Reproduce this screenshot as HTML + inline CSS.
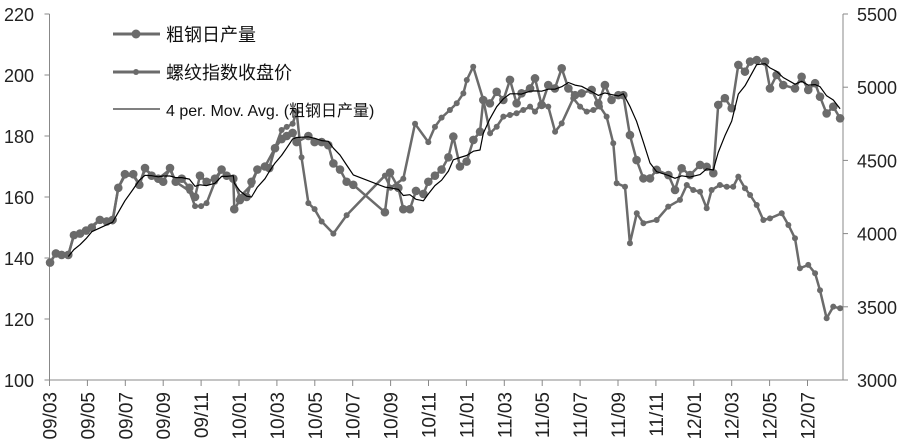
<!DOCTYPE html>
<html><head><meta charset="utf-8"><style>
html,body{margin:0;padding:0;background:#fff;}
svg{display:block;font-family:"Liberation Sans","Noto Sans CJK SC",sans-serif;}
</style></head><body>
<svg id="chart" width="900" height="442" viewBox="0 0 900 442" xmlns="http://www.w3.org/2000/svg">
<g id="axes"></g><g id="series"></g>
<g id="legend">
  <g>
    <line x1="113" y1="34" x2="160" y2="34" stroke="#6b6b6b" stroke-width="3"/>
    <circle cx="136" cy="34" r="4.5" fill="#6b6b6b"/>
    <text x="166" y="41" font-size="18" fill="#111">粗钢日产量</text>
  </g>
  <g>
    <line x1="113" y1="72" x2="160" y2="72" stroke="#6b6b6b" stroke-width="3"/>
    <circle cx="136" cy="72" r="3" fill="#6b6b6b"/>
    <text x="166" y="79" font-size="18" fill="#111">螺纹指数收盘价</text>
  </g>
  <g>
    <line x1="113" y1="109" x2="160" y2="109" stroke="#000" stroke-width="1"/>
    <text x="166" y="116" font-size="16" fill="#111">4 per. Mov. Avg. (粗钢日产量)</text>
  </g>
</g>
</svg>
<script>
const xTickLabels = ["09/03","09/05","09/07","09/09","09/11","10/01","10/03","10/05","10/07","10/09","10/11","11/01","11/03","11/05","11/07","11/09","11/11","12/01","12/03","12/05","12/07"];
const leftTicks = [100,120,140,160,180,200,220];
const rightTicks = [3000,3500,4000,4500,5000,5500];
const steelMonths = [0.03,0.34,0.64,0.99,1.29,1.61,1.93,2.23,2.66,3.02,3.33,3.63,3.98,4.42,4.74,5.04,5.39,5.74,6.0,6.36,6.66,6.98,7.38,7.68,7.94,8.29,8.73,9.08,9.35,9.7,9.75,10.05,10.4,10.66,10.97,11.37,11.6,11.9,12.25,12.52,12.83,13.04,13.66,13.99,14.36,14.71,14.98,15.33,15.68,16.03,17.7,17.97,18.41,18.67,19.02,19.34,19.73,19.99,20.34,20.69,21.05,21.31,21.66,22.01,22.37,22.72,22.89,23.24,23.6,23.95,24.3,24.65,24.91,25.36,25.62,25.97,26.32,26.67,27.03,27.38,27.73,28.08,28.61,28.96,29.31,29.66,30.02,30.28,30.63,30.98,31.34,31.69,32.04,32.66,33.01,33.36,33.8,34.33,34.68,35.03,35.29,35.64,36.0,36.35,36.7,36.97,37.32,37.76,38.02,38.37,38.72,39.34,39.69,40.04,40.4,40.66,41.01,41.36,41.72];
const steelValues = [138.5,141.5,141,141,147.5,148,149,150,152.5,152,152.5,163,167.5,167.5,164,169.5,167,166,165,169.5,165,166,163,160,167,165,166,169,167,166,156,159,160,165,169,170,169.5,176,179,180,181,178,180,178,178,177,171,169,165,164,155,168,163,156,156,162,161,165,167,169,173,179.8,170,171.6,178.7,181.4,191.8,190.7,194.5,191.8,198.4,190.7,194,195.6,198.9,190.2,196.7,195.6,202.2,195.6,193.4,194,195.1,190.7,196.7,191.8,193.4,193.4,180.3,172.1,166.1,166.1,168.9,167.2,162.3,169.4,167.2,170.5,169.9,167.8,190.2,192.4,189.1,203.3,201.1,204.4,204.9,204.4,195.6,200,196.7,195.6,199.4,195.1,197.3,192.9,187.4,189.6,185.8];
const rebarMonths = [0.03,0.34,0.99,1.29,1.93,2.66,3.33,3.63,3.98,4.42,4.74,5.04,5.74,6.36,6.66,7.38,7.68,8.0,8.29,8.73,9.08,9.35,9.7,10.05,10.66,10.97,11.37,11.9,12.25,12.52,12.83,13.04,13.3,13.66,13.99,14.36,14.98,15.68,17.7,18.0,18.67,19.29,19.99,20.34,20.69,21.13,21.49,21.84,22.02,22.36,22.89,23.25,23.6,23.95,24.3,24.65,25.0,25.36,25.62,25.97,26.32,26.68,27.03,27.64,28.0,28.35,28.7,29.05,29.4,29.75,29.93,30.37,30.63,30.99,31.34,32.04,32.65,33.27,33.63,33.97,34.33,34.68,34.94,35.38,35.74,36.08,36.35,36.7,36.97,37.32,37.67,38.02,38.64,38.99,39.34,39.6,40.04,40.4,40.66,41.01,41.36,41.72];
const rebarValues = [3802,3865,3854,3990,4021,4094,4083,4313,4396,4396,4333,4438,4375,4438,4354,4292,4188,4188,4208,4354,4438,4396,4375,4250,4333,4438,4458,4583,4708,4729,4750,4833,4521,4208,4167,4083,4000,4125,4396,4313,4375,4750,4625,4729,4792,4844,4890,4958,5049,5140,4913,4685,4730,4799,4810,4822,4844,4867,4833,4890,4867,4696,4753,4924,4867,4833,4844,4867,4799,4617,4344,4320,3934,4139,4071,4093,4184,4230,4332,4298,4286,4173,4298,4332,4320,4320,4389,4310,4264,4195,4093,4104,4139,4059,3968,3763,3786,3729,3613,3422,3501,3490];

const NS="http://www.w3.org/2000/svg";
const X0=49.5, XR=843, Y0=380, Y1=14;
const xScale = m => X0 + m*18.95;
const yLeft = v => Y0 - (v-100)/120*(Y0-Y1);
const yRight = v => Y0 - (v-3000)/2500*(Y0-Y1);
function mk(tag, attrs, parent){const e=document.createElementNS(NS,tag);for(const k in attrs)e.setAttribute(k,attrs[k]);parent.appendChild(e);return e;}
const axes=document.getElementById('axes'), series=document.getElementById('series');
const ax=mk('path',{d:`M${X0},${Y1}V${Y0}H${XR}V${Y1}`,fill:'none',stroke:'#888','stroke-width':1},axes);


leftTicks.forEach(v=>{
  const y=yLeft(v);
  const t=mk('line',{x1:X0-5,x2:X0,y1:y,y2:y,stroke:'#888'},axes);
  
  
  const l=mk('text',{x:34,y:y+7,'text-anchor':'end','font-size':18,fill:'#222'},axes);
  l.textContent=v;
  
  
});
rightTicks.forEach(v=>{
  const y=yRight(v);
  const t=mk('line',{x1:XR,x2:XR+5,y1:y,y2:y,stroke:'#888'},axes);
  
  
  const l=mk('text',{x:857,y:y+7,'font-size':18,fill:'#222'},axes);
  l.textContent=v;
  
  
});
xTickLabels.forEach((s,i)=>{
  const x=xScale(i*2);
  const t=mk('line',{x1:x,x2:x,y1:Y0,y2:Y0+6,stroke:'#888'},axes);
  
  
  const l=mk('text',{x:0,y:0,'text-anchor':'end','font-size':19,fill:'#222',transform:`translate(${x+7},392) rotate(-90)`},axes);
  l.textContent=s;
  
  
});
function poly(ms,vs,ys,stroke,w,name){
  const d=ms.map((m,i)=>(i?'L':'M')+xScale(m).toFixed(1)+','+ys(vs[i]).toFixed(1)).join('');
  const p=mk('path',{d,fill:'none',stroke,'stroke-width':w,'stroke-linejoin':'round'},series);
  
  
}
poly(steelMonths,steelValues,yLeft,'#6b6b6b',2.5,'steel-output-line');
steelMonths.forEach((m,i)=>{
  const c=mk('circle',{cx:xScale(m),cy:yLeft(steelValues[i]),r:4.3,fill:'#6b6b6b'},series);
  
  
});
poly(rebarMonths,rebarValues,yRight,'#6b6b6b',2.5,'rebar-index-line');
rebarMonths.forEach((m,i)=>{
  const c=mk('circle',{cx:xScale(m),cy:yRight(rebarValues[i]),r:3,fill:'#6b6b6b'},series);
  
  
});
const maM=[],maV=[];
for(let i=3;i<steelValues.length;i++){maM.push(steelMonths[i]);maV.push((steelValues[i]+steelValues[i-1]+steelValues[i-2]+steelValues[i-3])/4);}
poly(maM,maV,yLeft,'#000',1.2,'moving-average-line');
</script>
</body></html>
